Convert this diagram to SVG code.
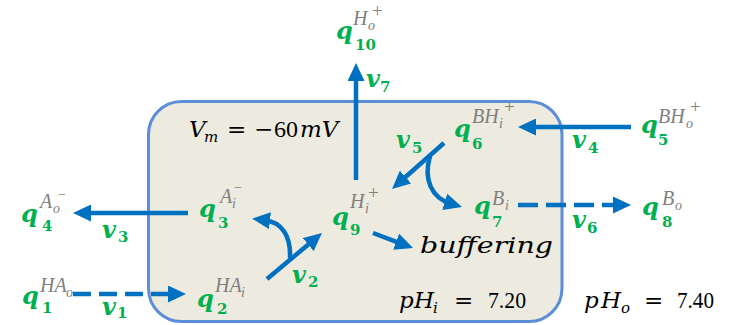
<svg xmlns="http://www.w3.org/2000/svg" width="734" height="325" viewBox="0 0 734 325">
<defs>
<style>
.q{font-family:"DejaVu Serif",serif;font-weight:bold;font-style:italic;font-size:24px;fill:#00B050}
.n{font-family:"DejaVu Serif",serif;font-weight:bold;font-size:15px;fill:#00B050}
.s{font-family:"Liberation Serif",serif;font-style:italic;font-size:20px;fill:#7F7F7F}
.ss{font-family:"Liberation Serif",serif;font-style:italic;font-size:14px;fill:#7F7F7F}
.pm{font-family:"Liberation Serif",serif;font-size:19px;fill:#7F7F7F}
.m{font-family:"DejaVu Serif",serif;font-style:italic;font-size:23px;fill:#000}
.mi{font-family:"DejaVu Serif",serif;font-style:italic;font-size:15px;fill:#000}
.eq{font-family:"DejaVu Serif",serif;font-size:23px;fill:#000}
.mu{font-family:"Liberation Serif",serif;font-size:24px;fill:#000}
.a{fill:none;stroke:#0070C0;stroke-width:4.5;marker-end:url(#ah)}
.d{stroke-dasharray:18 8}
</style>
<marker id="ah" markerUnits="userSpaceOnUse" markerWidth="18" markerHeight="17" viewBox="0 0 18 17" refX="6" refY="8.5" orient="auto">
<path d="M0,0 L18,8.5 L0,17 z" fill="#0070C0"/>
</marker>
</defs>
<rect id="cell" x="148.5" y="101.5" width="413.5" height="220" rx="33" fill="#EDEBE0" stroke="#5A8ED8" stroke-width="3"/>
<g id="connectors">
<path class="a" d="M356,180 V75"/>
<path class="a" d="M188,213 H85"/>
<path class="a d" d="M73,294 H174"/>
<path class="a" d="M631,127 H530"/>
<path class="a d" d="M518,205 H619" style="stroke-dasharray:20 8"/>
<path class="a" d="M267,279 L312.8,240.7"/>
<path class="a" d="M290,258 C291,236 282,222 264,220"/>
<path class="a" d="M444,143 L401,181"/>
<path class="a" d="M430,156 C423,180 432,198 450.5,203.6"/>
<path class="a" d="M373,233 L401.8,243.8"/>
</g>
<g id="labels">
<text class="m" x="189" y="137">V</text><text class="mi" x="204" y="142">m</text>
<text class="eq" x="227" y="137">=</text><text class="eq" x="254" y="137">−</text><text class="mu" x="274" y="137">60</text><text class="m" x="300" y="137">mV</text>
<text class="m" x="420" y="253" textLength="133" lengthAdjust="spacingAndGlyphs">buffering</text>
<text class="m" x="399" y="308">p</text><text class="m" x="414" y="308">H</text><text class="mi" x="433" y="313">i</text>
<text class="eq" x="454" y="308">=</text><text class="mu" x="488" y="308" textLength="38" lengthAdjust="spacingAndGlyphs">7.20</text>
<text class="m" x="584" y="308">p</text><text class="m" x="601" y="308">H</text><text class="mi" x="621" y="313">o</text>
<text class="eq" x="644" y="308">=</text><text class="mu" x="677" y="308" textLength="37" lengthAdjust="spacingAndGlyphs">7.40</text>
</g>
<g id="rates">
<text class="q" x="102" y="315">v</text><text class="n" x="117" y="318">1</text>
<text class="q" x="292" y="283">v</text><text class="n" x="308" y="287">2</text>
<text class="q" x="102" y="238">v</text><text class="n" x="118" y="242">3</text>
<text class="q" x="572" y="148">v</text><text class="n" x="588" y="153">4</text>
<text class="q" x="396" y="148">v</text><text class="n" x="412" y="153">5</text>
<text class="q" x="572" y="228">v</text><text class="n" x="587" y="233">6</text>
<text class="q" x="366" y="87">v</text><text class="n" x="380" y="92">7</text>
</g>
<g id="q1"><text class="q" x="22" y="304">q</text><text class="n" x="42" y="313">1</text><text class="s" x="40" y="292">HA</text><text class="ss" x="66" y="297">o</text></g>
<g id="q2"><text class="q" x="197" y="307">q</text><text class="n" x="217" y="314">2</text><text class="s" x="215" y="292">HA</text><text class="ss" x="241" y="297">i</text></g>
<g id="q3"><text class="q" x="199" y="217">q</text><text class="n" x="218" y="228">3</text><text class="s" x="220" y="203">A</text><text class="ss" x="232" y="208">i</text><text class="ss" x="233" y="192">−</text></g>
<g id="q4"><text class="q" x="21" y="222">q</text><text class="n" x="42" y="231">4</text><text class="s" x="40" y="208">A</text><text class="ss" x="53" y="213">o</text><text class="ss" x="57" y="199">−</text></g>
<g id="q5"><text class="q" x="641" y="133">q</text><text class="n" x="658" y="145">5</text><text class="s" x="658" y="123">BH</text><text class="ss" x="686" y="128">o</text><text class="pm" x="690" y="113">+</text></g>
<g id="q6"><text class="q" x="454" y="137">q</text><text class="n" x="472" y="149">6</text><text class="s" x="472" y="123">BH</text><text class="ss" x="499" y="128">i</text><text class="pm" x="504" y="113">+</text></g>
<g id="q7"><text class="q" x="474" y="214">q</text><text class="n" x="492" y="227">7</text><text class="s" x="492" y="205">B</text><text class="ss" x="505" y="210">i</text></g>
<g id="q8"><text class="q" x="642" y="215">q</text><text class="n" x="662" y="227">8</text><text class="s" x="662" y="205">B</text><text class="ss" x="675" y="210">o</text></g>
<g id="q9"><text class="q" x="332" y="225">q</text><text class="n" x="350" y="235">9</text><text class="s" x="350" y="208">H</text><text class="ss" x="365" y="213">i</text><text class="pm" x="368" y="199">+</text></g>
<g id="q10"><text class="q" x="336" y="39">q</text><text class="n" x="355" y="50">10</text><text class="s" x="353" y="25">H</text><text class="ss" x="368" y="30">o</text><text class="pm" x="372" y="17">+</text></g>
</svg>
